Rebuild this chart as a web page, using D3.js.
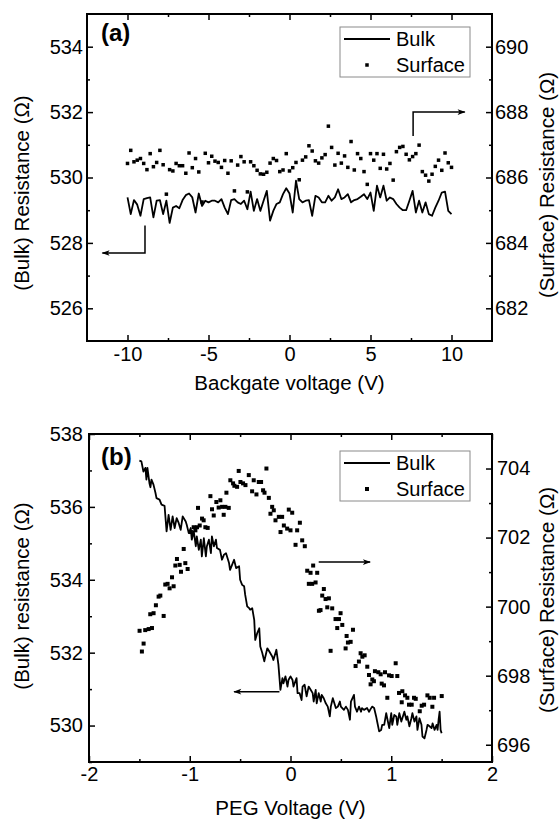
<!DOCTYPE html>
<html>
<head>
<meta charset="utf-8">
<script src="https://cdn.jsdelivr.net/npm/d3@7"></script>
<style>
  body { margin: 0; background: #fff; }
  svg text { font-family: "Liberation Sans", Arial, sans-serif; fill: #000; }
</style>
</head>
<body>
<div id="chart"></div>
<script>
// ---- panel (a): backgate sweep ----
const backgateV = [-10.0,-9.8,-9.6,-9.4,-9.2,-9.0,-8.8,-8.6,-8.4,-8.2,-8.0,-7.8,-7.6,-7.4,-7.2,-7.0,-6.8,-6.6,-6.4,-6.2,
  -6.0,-5.8,-5.6,-5.4,-5.2,-5.0,-4.8,-4.6,-4.4,-4.2,-4.0,-3.8,-3.6,-3.4,-3.2,-3.0,-2.8,-2.6,-2.4,-2.2,
  -2.0,-1.8,-1.6,-1.4,-1.2,-1.0,-0.8,-0.6,-0.4,-0.2,0.0,0.2,0.4,0.6,0.8,1.0,1.2,1.4,1.6,1.8,
  2.0,2.2,2.4,2.6,2.8,3.0,3.2,3.4,3.6,3.8,4.0,4.2,4.4,4.6,4.8,5.0,5.2,5.4,5.6,5.8,
  6.0,6.2,6.4,6.6,6.8,7.0,7.2,7.4,7.6,7.8,8.0,8.2,8.4,8.6,8.8,9.0,9.2,9.4,9.6,9.8,10.0];

const bulkA = [529.39,528.88,529.31,529.17,528.83,529.34,529.37,529.39,528.78,529.29,
  529.31,528.88,529.29,528.61,529.08,529.13,529.06,529.31,529.46,529.51,
  529.39,528.93,529.51,529.13,529.29,529.24,529.29,529.29,529.24,529.34,
  529.08,528.88,529.31,529.34,529.24,529.19,529.29,529.03,529.57,528.98,
  529.34,528.98,529.29,529.59,528.68,528.98,529.19,529.24,529.49,529.67,
  529.51,528.93,529.90,529.34,529.24,529.29,529.31,528.83,529.44,529.39,
  529.24,529.24,529.44,529.29,529.39,529.64,529.34,529.39,529.49,529.24,
  529.31,529.34,529.41,529.49,529.34,529.54,528.98,529.75,529.39,529.75,
  529.29,529.39,529.34,529.19,529.08,529.00,529.00,529.29,529.59,528.93,
  529.29,528.93,529.24,528.88,528.83,529.08,529.29,529.54,529.57,528.98,528.88];

const surfaceA = [686.43,686.83,686.48,686.53,686.58,686.43,686.24,686.73,686.33,686.46,
  686.83,686.39,685.49,686.24,686.20,686.43,686.36,686.36,686.13,686.75,
  686.30,686.58,686.17,685.25,686.74,686.45,686.65,686.50,686.46,686.31,
  686.52,686.13,686.51,685.59,686.38,686.64,686.48,685.56,686.48,686.36,
  686.22,686.11,686.10,686.16,686.44,686.58,686.52,686.18,686.23,686.73,
  686.20,686.30,686.46,685.93,686.53,686.63,686.97,686.81,686.51,686.44,
  686.60,686.70,687.57,686.92,686.38,686.74,686.44,686.66,686.31,687.10,
  686.23,686.73,686.58,686.18,685.79,686.73,686.53,686.73,686.28,686.71,
  686.26,686.43,685.92,686.79,686.92,686.95,686.71,686.54,686.64,686.73,
  686.99,686.18,686.07,685.89,686.10,686.34,686.53,686.22,686.75,686.45,686.31];

// ---- panel (b): PEG gate sweep, [voltage, resistance] ----
const bulkB = [[-1.50,537.27],[-1.48,537.25],[-1.46,536.97],[-1.44,537.07],[-1.43,536.75],[-1.42,537.07],[-1.40,536.65],
  [-1.39,536.54],[-1.38,536.75],[-1.36,536.61],[-1.34,536.38],[-1.33,536.24],[-1.30,536.20],[-1.28,536.06],[-1.25,536.03],
  [-1.23,535.33],[-1.21,535.78],[-1.19,535.37],[-1.17,535.74],[-1.15,535.42],[-1.13,535.69],[-1.11,535.56],[-1.09,535.37],
  [-1.07,535.74],[-1.04,535.60],[-1.03,535.51],[-1.01,535.28],[-0.99,535.42],[-0.98,535.10],[-0.96,535.33],[-0.94,534.92],
  [-0.93,535.19],[-0.91,534.82],[-0.89,535.10],[-0.88,534.64],[-0.86,535.14],[-0.84,534.64],[-0.83,534.92],[-0.81,535.10],
  [-0.79,534.73],[-0.78,535.19],[-0.76,534.92],[-0.74,535.10],[-0.73,534.87],[-0.70,534.82],[-0.68,534.55],[-0.66,534.69],
  [-0.64,534.73],[-0.61,534.46],[-0.60,534.27],[-0.58,534.41],[-0.56,534.55],[-0.54,534.32],[-0.51,534.37],[-0.50,534.00],
  [-0.48,533.86],[-0.46,533.82],[-0.45,533.59],[-0.43,533.27],[-0.41,533.22],[-0.40,533.18],[-0.38,533.22],[-0.36,532.90],
  [-0.35,532.35],[-0.33,532.54],[-0.31,532.67],[-0.30,532.17],[-0.28,531.99],[-0.26,531.76],[-0.25,531.89],[-0.23,532.12],
  [-0.21,532.03],[-0.18,531.89],[-0.17,531.80],[-0.14,532.08],[-0.12,531.67],[-0.10,530.98],[-0.08,531.30],[-0.07,531.16],
  [-0.05,531.35],[-0.03,531.07],[-0.02,531.25],[0.00,531.35],[0.02,531.25],[0.03,531.07],[0.06,531.30],[0.07,530.89],
  [0.09,530.89],[0.11,530.70],[0.12,531.07],[0.14,531.12],[0.16,530.80],[0.18,531.07],[0.20,530.98],[0.22,530.89],
  [0.23,530.66],[0.25,530.98],[0.26,530.61],[0.28,530.89],[0.30,530.66],[0.31,530.84],[0.33,530.75],[0.35,530.61],
  [0.37,530.52],[0.39,530.25],[0.40,530.52],[0.42,530.75],[0.44,530.57],[0.45,530.48],[0.47,530.52],[0.49,530.66],
  [0.50,530.52],[0.53,530.43],[0.55,530.52],[0.57,530.43],[0.59,530.16],[0.60,530.66],[0.63,530.84],[0.64,530.52],
  [0.66,530.38],[0.68,530.52],[0.70,530.38],[0.71,530.48],[0.73,530.43],[0.76,530.48],[0.78,530.38],[0.79,530.43],
  [0.81,530.52],[0.83,530.48],[0.85,530.25],[0.86,530.11],[0.88,529.84],[0.90,529.88],[0.91,530.02],[0.93,530.02],
  [0.95,530.34],[0.96,530.20],[0.98,529.93],[1.00,530.34],[1.01,530.02],[1.03,530.29],[1.05,530.25],[1.06,530.02],
  [1.08,530.34],[1.10,530.11],[1.11,530.20],[1.13,530.38],[1.15,530.16],[1.16,530.25],[1.18,529.98],[1.20,530.20],
  [1.21,530.34],[1.23,530.11],[1.25,530.25],[1.26,529.88],[1.28,530.20],[1.30,530.02],[1.31,529.70],[1.33,529.65],
  [1.35,529.88],[1.36,530.02],[1.38,529.98],[1.40,529.93],[1.41,530.06],[1.43,529.88],[1.45,530.02],[1.46,529.88],
  [1.47,530.16],[1.48,530.38],[1.49,529.88],[1.50,529.79]];

const surfaceB = [[-1.498,699.30],[-1.475,698.70],[-1.458,698.93],[-1.442,699.32],[-1.408,699.35],[-1.392,699.78],
  [-1.375,699.38],[-1.359,699.81],[-1.336,700.04],[-1.309,700.29],[-1.292,700.32],[-1.259,699.73],[-1.243,700.64],
  [-1.220,700.66],[-1.200,700.53],[-1.176,700.85],[-1.160,700.59],[-1.143,701.19],[-1.127,701.38],[-1.100,701.21],
  [-1.087,701.01],[-1.060,701.67],[-1.044,701.26],[-1.021,701.09],[-0.988,702.16],[-0.961,702.30],[-0.944,702.21],
  [-0.928,702.30],[-0.918,702.86],[-0.901,702.35],[-0.878,702.55],[-0.862,702.50],[-0.845,702.30],[-0.822,702.28],
  [-0.795,703.20],[-0.779,702.82],[-0.762,702.64],[-0.736,703.03],[-0.713,702.87],[-0.696,703.08],[-0.679,702.89],
  [-0.663,702.66],[-0.646,702.89],[-0.636,703.30],[-0.613,702.86],[-0.597,703.66],[-0.570,703.57],[-0.557,703.50],
  [-0.530,703.47],[-0.514,703.93],[-0.497,703.61],[-0.471,703.57],[-0.447,703.52],[-0.414,703.81],[-0.381,703.34],
  [-0.365,703.66],[-0.338,703.25],[-0.315,703.61],[-0.292,703.61],[-0.272,703.37],[-0.258,703.30],[-0.239,704.00],
  [-0.215,703.15],[-0.199,702.69],[-0.182,702.89],[-0.166,702.79],[-0.149,702.50],[-0.116,702.60],[-0.099,702.16],
  [-0.083,702.60],[-0.066,702.35],[-0.033,702.26],[-0.017,702.81],[0.000,702.21],[0.017,702.72],[0.050,701.79],
  [0.066,702.21],[0.093,702.43],[0.116,701.92],[0.142,701.75],[0.166,701.04],[0.182,700.66],[0.199,700.98],
  [0.215,700.66],[0.225,701.19],[0.249,700.70],[0.265,700.98],[0.282,699.88],[0.298,699.90],[0.315,700.32],
  [0.331,700.51],[0.348,700.22],[0.365,699.98],[0.381,700.24],[0.398,698.72],[0.414,699.95],[0.447,699.64],
  [0.464,699.38],[0.481,699.64],[0.497,699.81],[0.514,699.47],[0.547,698.79],[0.557,699.15],[0.570,698.96],
  [0.597,698.98],[0.620,699.33],[0.646,698.28],[0.679,698.41],[0.696,698.65],[0.713,698.55],[0.736,698.59],
  [0.762,698.26],[0.779,698.02],[0.795,697.75],[0.812,697.89],[0.828,697.84],[0.838,698.13],[0.872,698.10],
  [0.895,698.04],[0.905,697.77],[0.928,697.72],[0.938,698.10],[0.961,697.36],[0.978,698.01],[1.004,697.99],
  [1.044,698.36],[1.060,697.99],[1.077,697.50],[1.104,697.23],[1.110,697.55],[1.137,697.43],[1.160,697.36],
  [1.176,697.16],[1.203,697.16],[1.226,697.36],[1.243,697.33],[1.283,696.97],[1.302,697.13],[1.326,697.16],
  [1.359,697.43],[1.382,697.36],[1.408,697.10],[1.425,697.36],[1.501,697.41]];

// ticks
const xMajorA = [-10, -5, 0, 5, 10];
const xMinorA = [-7.5, -2.5, 2.5, 7.5];
const yLeftMajorA = [526, 528, 530, 532, 534];
const yLeftMinorA = [527, 529, 531, 533];
const yRightMajorA = [682, 684, 686, 688, 690];
const yRightMinorA = [683, 685, 687, 689];

const xMajorB = [-2, -1, 0, 1, 2];
const xMinorB = [-1.5, -0.5, 0.5, 1.5];
const yLeftMajorB = [530, 532, 534, 536, 538];
const yLeftMinorB = [529, 531, 533, 535, 537];
const yRightMajorB = [696, 698, 700, 702, 704];
const yRightMinorB = [697, 699, 701, 703];

const width = 559;
const height = 820;

const svg = d3.select("#chart")
  .append("svg")
  .attr("width", width)
  .attr("height", height);

svg.append("defs").append("marker")
  .attr("id", "arrow")
  .attr("viewBox", "0 0 10 10")
  .attr("refX", 9)
  .attr("refY", 5)
  .attr("markerUnits", "userSpaceOnUse")
  .attr("markerWidth", 10)
  .attr("markerHeight", 8)
  .attr("orient", "auto")
  .append("path")
  .attr("d", "M0,1.5 L10,5 L0,8.5 L2.5,5 Z")
  .attr("fill", "#000");

// plain hyphen for negatives, like the original
const plain = d => String(d);

function tickAxis(g, axis, transform) {
  const a = g.append("g").attr("transform", transform).call(axis);
  a.select(".domain").remove();
  a.selectAll("line").attr("stroke", "#000").attr("stroke-width", 1.5);
  a.selectAll("text").attr("font-size", 20).attr("fill", "#000")
    .attr("font-family", "'Liberation Sans', Arial, sans-serif");
  return a;
}

function drawPanel(cfg) {
  const g = svg.append("g");
  const x = d3.scaleLinear().domain(cfg.xDomain).range([cfg.left, cfg.right]);
  const yL = d3.scaleLinear().domain(cfg.yLeftDomain).range([cfg.bottom, cfg.top]);
  const yR = d3.scaleLinear().domain(cfg.yRightDomain).range([cfg.bottom, cfg.top]);

  // bottom / top
  tickAxis(g, d3.axisBottom(x).tickValues(cfg.xMajor).tickSize(-6).tickPadding(cfg.xPad)
    .tickFormat(plain), `translate(0,${cfg.bottom})`);
  tickAxis(g, d3.axisBottom(x).tickValues(cfg.xMinor).tickSize(-3).tickFormat(""), `translate(0,${cfg.bottom})`);
  tickAxis(g, d3.axisTop(x).tickValues(cfg.xMajor).tickSize(-6).tickFormat(""), `translate(0,${cfg.top})`);
  tickAxis(g, d3.axisTop(x).tickValues(cfg.xMinor).tickSize(-3).tickFormat(""), `translate(0,${cfg.top})`);

  // left / right
  tickAxis(g, d3.axisLeft(yL).tickValues(cfg.yLeftMajor).tickSize(-6).tickPadding(cfg.yLeftPad)
    .tickFormat(plain), `translate(${cfg.left},0)`);
  tickAxis(g, d3.axisLeft(yL).tickValues(cfg.yLeftMinor).tickSize(-3).tickFormat(""), `translate(${cfg.left},0)`);
  tickAxis(g, d3.axisRight(yR).tickValues(cfg.yRightMajor).tickSize(-6).tickPadding(cfg.yRightPad)
    .tickFormat(plain), `translate(${cfg.right},0)`);
  tickAxis(g, d3.axisRight(yR).tickValues(cfg.yRightMinor).tickSize(-3).tickFormat(""), `translate(${cfg.right},0)`);

  // frame
  g.append("rect")
    .attr("x", cfg.left).attr("y", cfg.top)
    .attr("width", cfg.right - cfg.left).attr("height", cfg.bottom - cfg.top)
    .attr("fill", "none").attr("stroke", "#000").attr("stroke-width", 2);

  // bulk line
  const line = d3.line().x(d => x(d[0])).y(d => yL(d[1]));
  g.append("path")
    .datum(cfg.bulk)
    .attr("d", line)
    .attr("fill", "none")
    .attr("stroke", "#000")
    .attr("stroke-width", cfg.lineWidth)
    .attr("stroke-linejoin", "round");

  // surface points
  const s = cfg.markerSize;
  g.append("g")
    .selectAll("rect")
    .data(cfg.surface)
    .join("rect")
    .attr("x", d => x(d[0]) - s / 2)
    .attr("y", d => yR(d[1]) - s / 2)
    .attr("width", s)
    .attr("height", s)
    .attr("fill", "#000");

  // arrows pointing to the matching axis
  cfg.arrows.forEach(a => {
    const sc = a.axis === "left" ? yL : yR;
    g.append("path")
      .attr("d", d3.line()(a.pts.map(p => [x(p[0]), sc(p[1])])))
      .attr("fill", "none")
      .attr("stroke", "#000")
      .attr("stroke-width", 1.5)
      .attr("marker-end", "url(#arrow)");
  });

  // legend
  const lg = g.append("g");
  const ly = cfg.top + cfg.legendDy;
  lg.append("rect")
    .attr("x", 340).attr("y", ly)
    .attr("width", 130).attr("height", 50)
    .attr("fill", "#fff").attr("stroke", "#8a8a8a").attr("stroke-width", 1);
  lg.append("line")
    .attr("x1", 344).attr("x2", 390)
    .attr("y1", ly + 12).attr("y2", ly + 12)
    .attr("stroke", "#000").attr("stroke-width", cfg.lineWidth);
  lg.append("rect")
    .attr("x", 367 - s / 2).attr("y", ly + 38 - s / 2)
    .attr("width", s).attr("height", s).attr("fill", "#000");
  lg.append("text").attr("x", 396).attr("y", ly + 19)
    .attr("font-size", 20).text("Bulk");
  lg.append("text").attr("x", 396).attr("y", ly + 45)
    .attr("font-size", 20).text("Surface");

  // panel tag
  g.append("text")
    .attr("x", 101).attr("y", cfg.top + cfg.tagDy)
    .attr("font-size", 24).attr("font-weight", "bold")
    .text(cfg.tag);

  // axis titles
  g.append("text")
    .attr("x", (cfg.left + cfg.right) / 2).attr("y", cfg.xTitleY)
    .attr("text-anchor", "middle").attr("font-size", 20.5)
    .text(cfg.xTitle);
  g.append("text")
    .attr("transform", `translate(29,${cfg.yLeftTitleY}) rotate(-90)`)
    .attr("text-anchor", "middle").attr("font-size", 20.5)
    .text(cfg.yLeftTitle);
  g.append("text")
    .attr("transform", `translate(554,${cfg.yRightTitleY}) rotate(-90)`)
    .attr("text-anchor", "middle").attr("font-size", 20.5)
    .text(cfg.yRightTitle);
}

drawPanel({
  left: 87, right: 492, top: 14, bottom: 341,
  xDomain: [-12.5, 12.5], yLeftDomain: [525, 535], yRightDomain: [681, 691],
  xMajor: xMajorA, xMinor: xMinorA,
  yLeftMajor: yLeftMajorA, yLeftMinor: yLeftMinorA,
  yRightMajor: yRightMajorA, yRightMinor: yRightMinorA,
  xPad: 6, yLeftPad: 4, yRightPad: 3,
  bulk: backgateV.map((v, i) => [v, bulkA[i]]),
  surface: backgateV.map((v, i) => [v, surfaceA[i]]),
  lineWidth: 1.8, markerSize: 3.5,
  arrows: [
    { axis: "right", pts: [[7.63, 687.27], [7.63, 688.0], [10.82, 688.0]] },
    { axis: "left", pts: [[-8.92, 528.53], [-8.92, 527.69], [-11.55, 527.69]] }
  ],
  legendDy: 13, tag: "(a)", tagDy: 27,
  xTitle: "Backgate voltage (V)", xTitleY: 390,
  yLeftTitle: "(Bulk) Resistance (\u03A9)", yLeftTitleY: 193,
  yRightTitle: "(Surface) Resistance (\u03A9)", yRightTitleY: 185
});

drawPanel({
  left: 89, right: 492, top: 434, bottom: 762,
  xDomain: [-2, 2], yLeftDomain: [529, 538], yRightDomain: [695.5, 705],
  xMajor: xMajorB, xMinor: xMinorB,
  yLeftMajor: yLeftMajorB, yLeftMinor: yLeftMinorB,
  yRightMajor: yRightMajorB, yRightMinor: yRightMinorB,
  xPad: 5, yLeftPad: 6, yRightPad: 5,
  bulk: bulkB, surface: surfaceB,
  lineWidth: 1.8, markerSize: 4,
  arrows: [
    { axis: "right", pts: [[0.28, 701.29], [0.79, 701.29]] },
    { axis: "left", pts: [[-0.11, 530.93], [-0.56, 530.93]] }
  ],
  legendDy: 17, tag: "(b)", tagDy: 31,
  xTitle: "PEG Voltage (V)", xTitleY: 815,
  yLeftTitle: "(Bulk) resistance (\u03A9)", yLeftTitleY: 596,
  yRightTitle: "(Surface) Resistance (\u03A9)", yRightTitleY: 600
});
</script>
</body>
</html>
